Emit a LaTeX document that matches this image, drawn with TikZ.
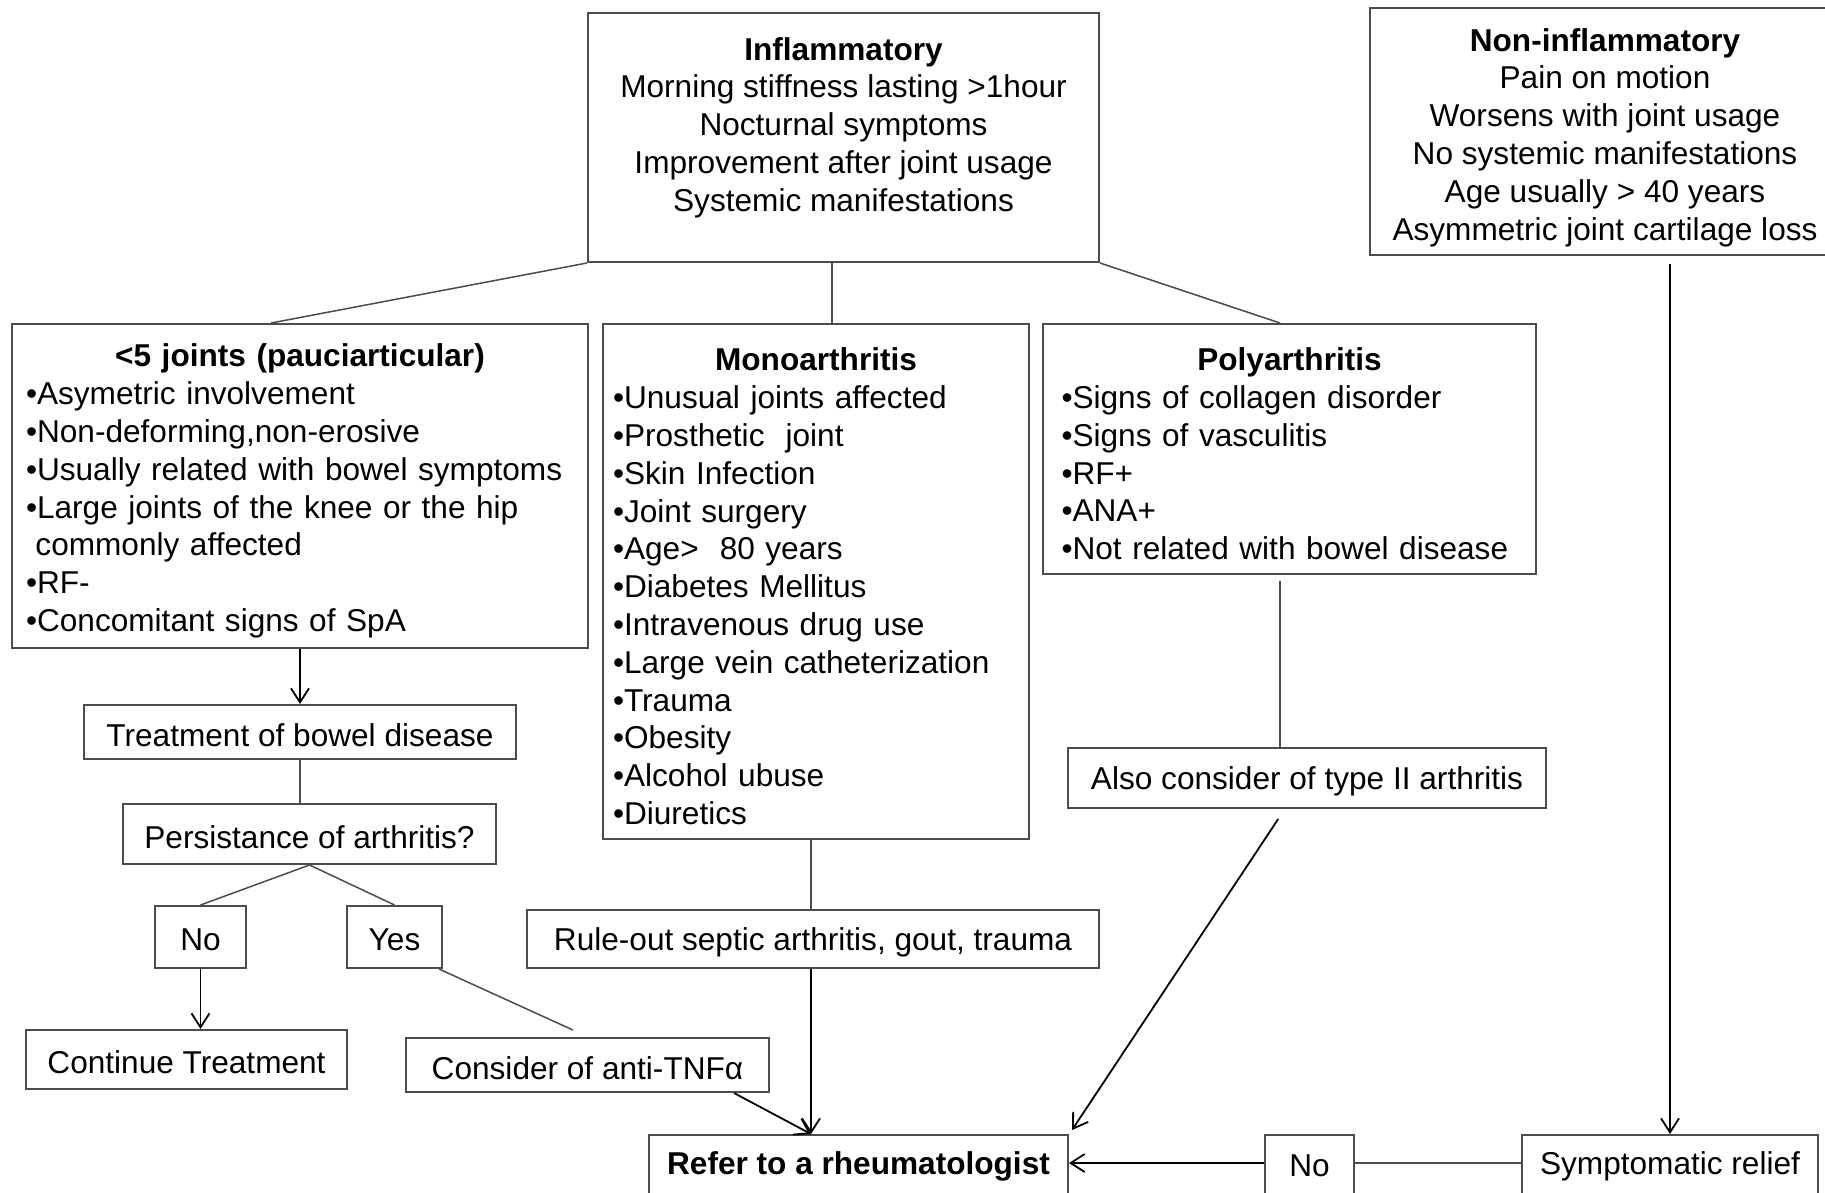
\documentclass[tikz,border=0pt]{standalone}
\usepackage{fontspec}
\setmainfont{Liberation Sans}
\usetikzlibrary{arrows.meta,fit,calc}
\definecolor{boxgray}{gray}{0.30}
\definecolor{linegray}{gray}{0.30}

\begin{document}
\begin{tikzpicture}[x=0.5pt,y=-0.5pt,
  box/.style={draw=boxgray, line width=1pt, inner sep=0pt, rectangle},
  txt/.style={font=\fontsize{15.8}{18.9}\selectfont, inner sep=0pt, align=center, yshift=-1.5pt},
  listtxt/.style={font=\fontsize{15.8}{18.9}\selectfont, inner sep=0pt, yshift=-2.5pt},
  link/.style={draw=linegray, line width=0.75pt},
  arr/.style={draw=black, line width=0.9pt, -{Straight Barb[length=7pt,width=9pt,line width=0.9pt]}},
]
\useasboundingbox[fill=white] (0,0) rectangle (1825,1193);

% ---- top level ----
\node[box, fit={(588,13) (1099,262)}] (inf) {};
\node[txt] (inftext) at ($(inf.center)+(0,-13)$)
  {\textbf{Inflammatory}\\Morning stiffness lasting >1hour\\Nocturnal symptoms\\Improvement after joint usage\\Systemic manifestations};

\node[box, fit={(1370,8) (1840,255)}] (noninf) {};
\node[txt] (noninftext) at ($(noninf.center)+(0,3)$)
  {\textbf{Non-inflammatory}\\Pain on motion\\Worsens with joint usage\\No systemic manifestations\\Age usually > 40 years\\Asymmetric joint cartilage loss};

% ---- second level ----
\node[box, fit={(12,324) (588,648)}] (pauci) {};
\node[listtxt, text width=274pt] (paucitext) at (pauci.center)
  {\centering\textbf{<5 joints (pauciarticular)}\par\raggedright
   •Asymetric involvement\\
   •Non-deforming,non-erosive\\
   •Usually related with bowel symptoms\\
   •Large joints of the knee or the hip\\
   \hspace*{0.3em}commonly affected\\
   •RF-\\
   •Concomitant signs of SpA};

\node[box, fit={(603,324) (1029,839)}] (mono) {};
\node[listtxt, text width=203pt] (monotext) at (mono.center)
  {\centering\textbf{Monoarthritis}\par\raggedright
   •Unusual joints affected\\
   •Prosthetic\ \ joint\\
   •Skin Infection\\
   •Joint surgery\\
   •Age> \ 80 years\\
   •Diabetes Mellitus\\
   •Intravenous drug use\\
   •Large vein catheterization\\
   •Trauma\\
   •Obesity\\
   •Alcohol ubuse\\
   •Diuretics};

\node[box, fit={(1043,324) (1536,574)}] (poly) {};
\node[listtxt, text width=228pt] (polytext) at (poly.center)
  {\centering\textbf{Polyarthritis}\par\raggedright
   •Signs of collagen disorder\\
   •Signs of vasculitis\\
   •RF+\\
   •ANA+\\
   •Not related with bowel disease};

% ---- left branch ----
\node[box, fit={(84,705) (516,759)}] (treat) {};
\node[txt] at (treat.center) {Treatment of bowel disease};
\node[box, fit={(123,804) (496,864)}] (persist) {};
\node[txt] at (persist.center) {Persistance of arthritis?};
\node[box, fit={(155,906) (246,968)}] (noA) {};
\node[txt] at (noA.center) {No};
\node[box, fit={(347,906) (442,968)}] (yes) {};
\node[txt] at (yes.center) {Yes};
\node[box, fit={(26,1030) (347,1089)}] (cont) {};
\node[txt] at (cont.center) {Continue Treatment};
\node[box, fit={(406,1038) (769,1092)}] (cons) {};
\node[txt] at (cons.center) {Consider of anti-TNFα};

% ---- middle and right branches ----
\node[box, fit={(527,910) (1099,968)}] (rule) {};
\node[txt] at (rule.center) {Rule-out septic arthritis, gout, trauma};
\node[box, fit={(1068,748) (1546,808)}] (also) {};
\node[txt] at (also.center) {Also consider of type II arthritis};

% ---- bottom row ----
\node[box, fit={(649,1135) (1068,1198)}] (refer) {};
\node[txt] at ($(refer.north)+(0,29)$) {\textbf{Refer to a rheumatologist}};
\node[box, fit={(1265,1135) (1354,1198)}] (noB) {};
\node[txt] at ($(noB.north)+(0,29)$) {No};
\node[box, fit={(1522,1135) (1818,1198)}] (sympt) {};
\node[txt] at ($(sympt.north)+(0,29)$) {Symptomatic relief};

% ---- connectors ----
\coordinate (infmid) at ($(inf.south west)!0.478!(inf.south east)$);
\draw[link] (inf.south west) -- ($(pauci.north west)!0.45!(pauci.north east)$);
\draw[link] (infmid) -- (infmid |- mono.north);
\draw[link] (inf.south east) -- ($(poly.north west)!0.481!(poly.north east)$);

\draw[arr] (pauci.south) -- (treat.north);
\draw[link] (treat.south) -- (treat.south |- persist.north);
\draw[link] (persist.south) -- (noA.north);
\draw[link] (persist.south) -- (yes.north);
\draw[arr] (noA.south) -- (noA.south |- cont.north);
\draw[link] ($(yes.south east)+(-4,0)$) -- ($(cons.north west)!0.46!(cons.north east)+(0,-7)$);

\coordinate (referin) at ($(refer.north west)+(163,0)$);
\draw[link] (referin |- mono.south) -- (referin |- rule.north);
\draw[arr] (referin |- rule.south) -- (referin);
\draw[arr] ($(cons.south east)+(-36,0)$) -- (referin);

\coordinate (polyout) at ($(poly.south west)!0.481!(poly.south east)$);
\draw[link] ($(polyout)+(0,6)$) -- (polyout |- also.north);
\draw[arr] ($(also.south west)!0.44!(also.south east)+(0,10)$) -- ($(refer.north east)+(3,-4)$);

\draw[arr] ($(sympt.north |- noninf.south)+(0,8)$) -- (sympt.north);
\draw[link] ($(sympt.north west)+(0,29)$) -- ($(noB.north east)+(0,29)$);
\draw[arr] ($(noB.north west)+(0,29)$) -- ($(refer.north east)+(0,29)$);
\end{tikzpicture}
\end{document}
